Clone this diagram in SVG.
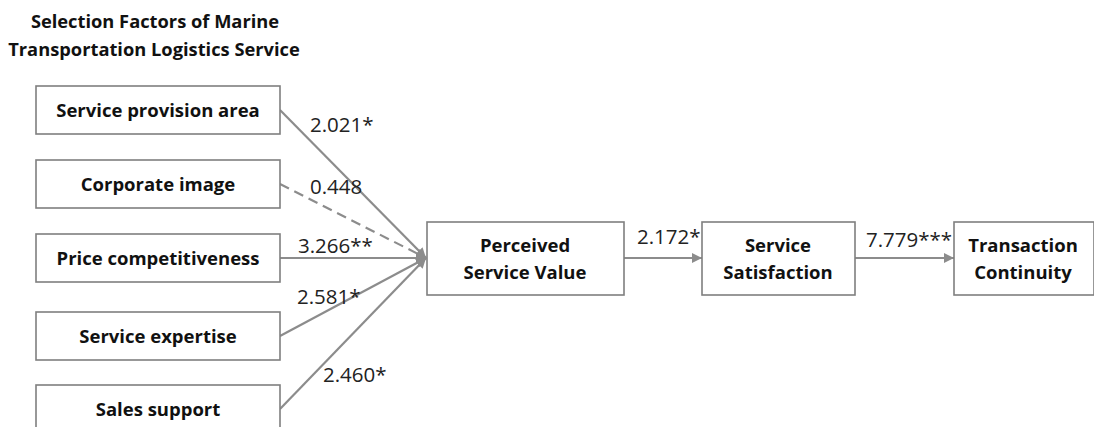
<svg xmlns="http://www.w3.org/2000/svg" width="1094" height="427" viewBox="0 0 1094 427">
<style>
.box{fill:#fff;stroke:#7f7f7f;stroke-width:1.6}
.lbl{font-family:"Open Sans","Noto Sans",sans-serif;font-weight:bold;font-size:18.5px;fill:#111;text-anchor:middle}
.num{font-family:"Open Sans","Noto Sans",sans-serif;font-size:20.5px;fill:#222}
.ln{stroke:#8c8c8c;stroke-width:2.2;fill:none}
.title{font-family:"Open Sans","Noto Sans",sans-serif;font-weight:bold;font-size:18.3px;fill:#111;text-anchor:middle}
</style>
<defs>
<marker id="ah" viewBox="0 0 10 10" refX="10" refY="5" markerWidth="10" markerHeight="10" markerUnits="userSpaceOnUse" orient="auto">
<path d="M0,0 L10,5 L0,10 z" fill="#8c8c8c"/>
</marker>
</defs>
<rect width="1094" height="427" fill="#fff"/>
<g id="title">
<text class="title" x="155" y="28">Selection Factors of Marine</text>
<text class="title" x="154" y="56">Transportation Logistics Service</text>
</g>
<g id="connectors">
<line class="ln" x1="280" y1="110" x2="426" y2="258" marker-end="url(#ah)"/>
<line class="ln" x1="280" y1="184" x2="426" y2="258" stroke-dasharray="10,6" marker-end="url(#ah)"/>
<line class="ln" x1="280" y1="258" x2="426" y2="258" marker-end="url(#ah)"/>
<line class="ln" x1="280" y1="336" x2="426" y2="258" marker-end="url(#ah)"/>
<line class="ln" x1="280" y1="409" x2="426" y2="258" marker-end="url(#ah)"/>
<line class="ln" x1="624" y1="258" x2="702" y2="258" marker-end="url(#ah)"/>
<line class="ln" x1="855" y1="258" x2="954" y2="258" marker-end="url(#ah)"/>
<text class="num" x="310" y="132">2.021*</text>
<text class="num" x="310" y="194">0.448</text>
<text class="num" x="298" y="253">3.266**</text>
<text class="num" x="297" y="304">2.581*</text>
<text class="num" x="323" y="382">2.460*</text>
<text class="num" x="637" y="244">2.172*</text>
<text class="num" x="866" y="247">7.779***</text>
</g>
<g id="n1"><rect class="box" x="36" y="86" width="244" height="48"/><text class="lbl" x="158" y="117">Service provision area</text></g>
<g id="n2"><rect class="box" x="36" y="160" width="244" height="48"/><text class="lbl" x="158" y="191">Corporate image</text></g>
<g id="n3"><rect class="box" x="36" y="234" width="244" height="48"/><text class="lbl" x="158" y="265">Price competitiveness</text></g>
<g id="n4"><rect class="box" x="36" y="312" width="244" height="48"/><text class="lbl" x="158" y="343">Service expertise</text></g>
<g id="n5"><rect class="box" x="36" y="385" width="244" height="48"/><text class="lbl" x="158" y="416">Sales support</text></g>
<g id="n6"><rect class="box" x="427" y="222" width="197" height="73"/><text class="lbl" x="525" y="252">Perceived</text><text class="lbl" x="525" y="279">Service Value</text></g>
<g id="n7"><rect class="box" x="702" y="222" width="153" height="73"/><text class="lbl" x="778" y="252">Service</text><text class="lbl" x="778" y="279">Satisfaction</text></g>
<g id="n8"><rect class="box" x="954" y="222" width="140" height="73"/><text class="lbl" x="1023" y="252">Transaction</text><text class="lbl" x="1023" y="279">Continuity</text></g>
</svg>
